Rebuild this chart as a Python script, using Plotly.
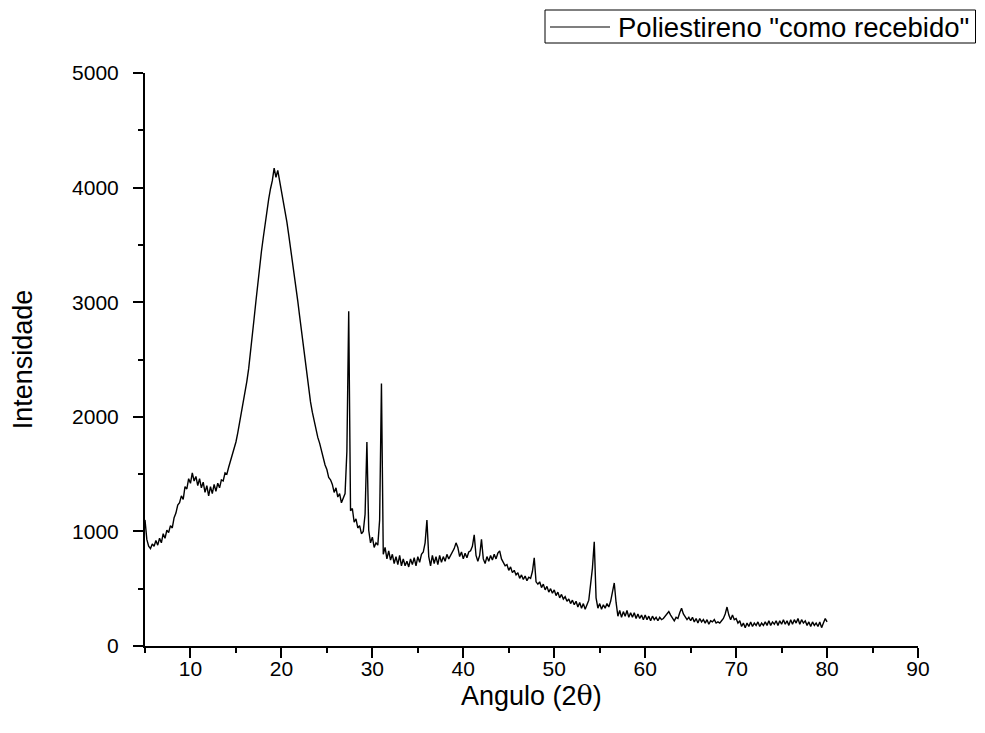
import numpy as np
import plotly.graph_objects as go

# 2-theta grid (degrees), sampled every 0.2 deg from 5 to 80
two_theta_start = 5.0
two_theta_step = 0.2

# Intensity values, one row per degree (5 samples per row)
intensity = [
    1100, 930, 870, 850, 890,      # 5
    870, 920, 880, 940, 900,       # 6
    980, 940, 1010, 990, 1050,     # 7
    1030, 1120, 1160, 1230, 1250,  # 8
    1310, 1280, 1390, 1370, 1460,  # 9
    1420, 1510, 1440, 1480, 1400,  # 10
    1460, 1380, 1430, 1340, 1400,  # 11
    1310, 1390, 1330, 1410, 1350,  # 12
    1420, 1380, 1450, 1440, 1510,  # 13
    1500, 1560, 1610, 1660, 1720,  # 14
    1780, 1860, 1950, 2030, 2120,  # 15
    2200, 2310, 2420, 2550, 2700,  # 16
    2860, 3010, 3170, 3300, 3440,  # 17
    3560, 3690, 3800, 3900, 3990,  # 18
    4060, 4170, 4090, 4150, 4060,  # 19
    3990, 3900, 3810, 3700, 3590,  # 20
    3480, 3370, 3260, 3140, 3010,  # 21
    2880, 2750, 2620, 2490, 2350,  # 22
    2230, 2130, 2040, 1960, 1890,  # 23
    1820, 1770, 1700, 1650, 1580,  # 24
    1540, 1470, 1450, 1410, 1340,  # 25
    1380, 1300, 1330, 1250, 1290,  # 26
    1330, 1700, 2920, 1180, 1200,  # 27
    1080, 1110, 1030, 1050, 980,   # 28
    1000, 1150, 1780, 1010, 900,   # 29
    950, 860, 900, 880, 1100,      # 30
    2290, 800, 860, 760, 830,      # 31
    750, 800, 720, 780, 710,       # 32
    790, 700, 760, 700, 740,       # 33
    690, 760, 710, 770, 700,       # 34
    780, 730, 800, 820, 900,       # 35
    1100, 780, 700, 790, 720,      # 36
    780, 710, 790, 730, 780,       # 37
    740, 800, 760, 790, 820,       # 38
    850, 900, 860, 780, 820,       # 39
    760, 810, 770, 820, 830,       # 40
    870, 970, 790, 740, 790,       # 41
    930, 760, 720, 780, 740,       # 42
    790, 750, 800, 760, 810,       # 43
    830, 760, 730, 700, 710,       # 44
    660, 690, 640, 660, 620,       # 45
    640, 590, 620, 580, 610,       # 46
    570, 600, 590, 650, 770,       # 47
    560, 540, 560, 510, 540,       # 48
    490, 520, 470, 500, 460,       # 49
    490, 440, 470, 420, 450,       # 50
    410, 430, 390, 410, 370,       # 51
    400, 360, 390, 340, 380,       # 52
    330, 370, 320, 360, 400,       # 53
    540, 680, 910, 420, 330,       # 54
    370, 320, 360, 330, 370,       # 55
    340, 390, 470, 550, 380,       # 56
    260, 310, 250, 300, 260,       # 57
    310, 250, 290, 250, 290,       # 58
    240, 280, 240, 270, 230,       # 59
    270, 230, 260, 220, 260,       # 60
    230, 250, 220, 250, 230,       # 61
    240, 260, 270, 300, 270,       # 62
    240, 220, 250, 240, 290,       # 63
    330, 280, 250, 230, 250,       # 64
    220, 250, 210, 240, 200,       # 65
    240, 210, 230, 200, 230,       # 66
    190, 220, 210, 230, 200,       # 67
    210, 200, 220, 240, 280,       # 68
    340, 270, 230, 270, 230,       # 69
    240, 200, 220, 170, 200,       # 70
    160, 200, 170, 210, 170,       # 71
    200, 180, 210, 170, 200,       # 72
    180, 210, 180, 220, 180,       # 73
    210, 190, 220, 180, 220,       # 74
    190, 230, 190, 220, 180,       # 75
    230, 190, 230, 200, 240,       # 76
    190, 230, 200, 220, 180,       # 77
    210, 170, 210, 180, 200,       # 78
    170, 210, 160, 200, 240,       # 79
    210,                           # 80
]

two_theta = np.round(two_theta_start + two_theta_step * np.arange(len(intensity)), 1)

series_name = 'Poliestireno "como recebido"'
x_title = "Angulo (2<span style='font-family:DejaVu Serif'>θ</span>)"
y_title = "Intensidade"
x_ticks = [10, 20, 30, 40, 50, 60, 70, 80, 90]
y_ticks = [0, 1000, 2000, 3000, 4000, 5000]

FONT = "Liberation Sans, Arial, sans-serif"

# page body has an 8px margin: figure sits at (8, 8) in the window
W, H = 969, 717
L, R, T, B = 137, 59, 65, 79
plot_w = W - L - R
plot_h = H - T - B


def px_x(v):  # window x pixel -> paper x
    return (v - 8 - L) / plot_w


def px_y(v):  # window y pixel -> paper y
    return (H - B - (v - 8)) / plot_h


fig = go.Figure()
fig.add_trace(go.Scatter(
    x=two_theta, y=intensity, mode="lines", name=series_name,
    line=dict(color="black", width=1.4),
    showlegend=False,
))

axis_common = dict(
    showline=True, linecolor="black", linewidth=2,
    ticks="outside", ticklen=10, tickwidth=2, tickcolor="black",
    showgrid=False, zeroline=False, mirror=False,
    tickfont=dict(family=FONT, size=21, color="black"),
)

# legend box drawn as shapes + text
shapes = [
    dict(type="rect", xref="paper", yref="paper",
         x0=px_x(545), x1=px_x(975.5), y0=px_y(43), y1=px_y(10),
         line=dict(color="black", width=1), fillcolor="white", layer="above"),
    dict(type="line", xref="paper", yref="paper",
         x0=px_x(550), x1=px_x(610), y0=px_y(27), y1=px_y(27),
         line=dict(color="black", width=1.2), layer="above"),
]
annotations = [
    dict(text=series_name, xref="paper", yref="paper",
         x=px_x(616), y=px_y(27), xanchor="left", yanchor="middle",
         showarrow=False, font=dict(family=FONT, size=27.5, color="black")),
    dict(text=x_title, xref="paper", yref="paper",
         x=0.5, y=px_y(695), xanchor="center", yanchor="middle",
         showarrow=False, font=dict(family=FONT, size=27, color="black")),
]

fig.update_layout(
    width=W, height=H,
    margin=dict(l=L, r=R, t=T, b=B, autoexpand=False),
    paper_bgcolor="white", plot_bgcolor="white",
    font=dict(family=FONT, size=21, color="black"),
    xaxis=dict(
        range=[5, 90], tickvals=x_ticks, ticktext=[str(v) for v in x_ticks],
        minor=dict(tickvals=[5, 15, 25, 35, 45, 55, 65, 75, 85], ticklen=5,
                   tickwidth=2, tickcolor="black", ticks="outside"),
        ticklabelstandoff=-7,
        **axis_common,
    ),
    yaxis=dict(
        range=[0, 5000], tickvals=y_ticks, ticktext=[str(v) for v in y_ticks],
        minor=dict(tickvals=[500, 1500, 2500, 3500, 4500], ticklen=5,
                   tickwidth=2, tickcolor="black", ticks="outside"),
        ticklabelstandoff=10,
        title=dict(text=y_title, font=dict(family=FONT, size=27), standoff=32),
        **axis_common,
    ),
    shapes=shapes,
    annotations=annotations,
    showlegend=False,
)

fig.write_html("out.html")
